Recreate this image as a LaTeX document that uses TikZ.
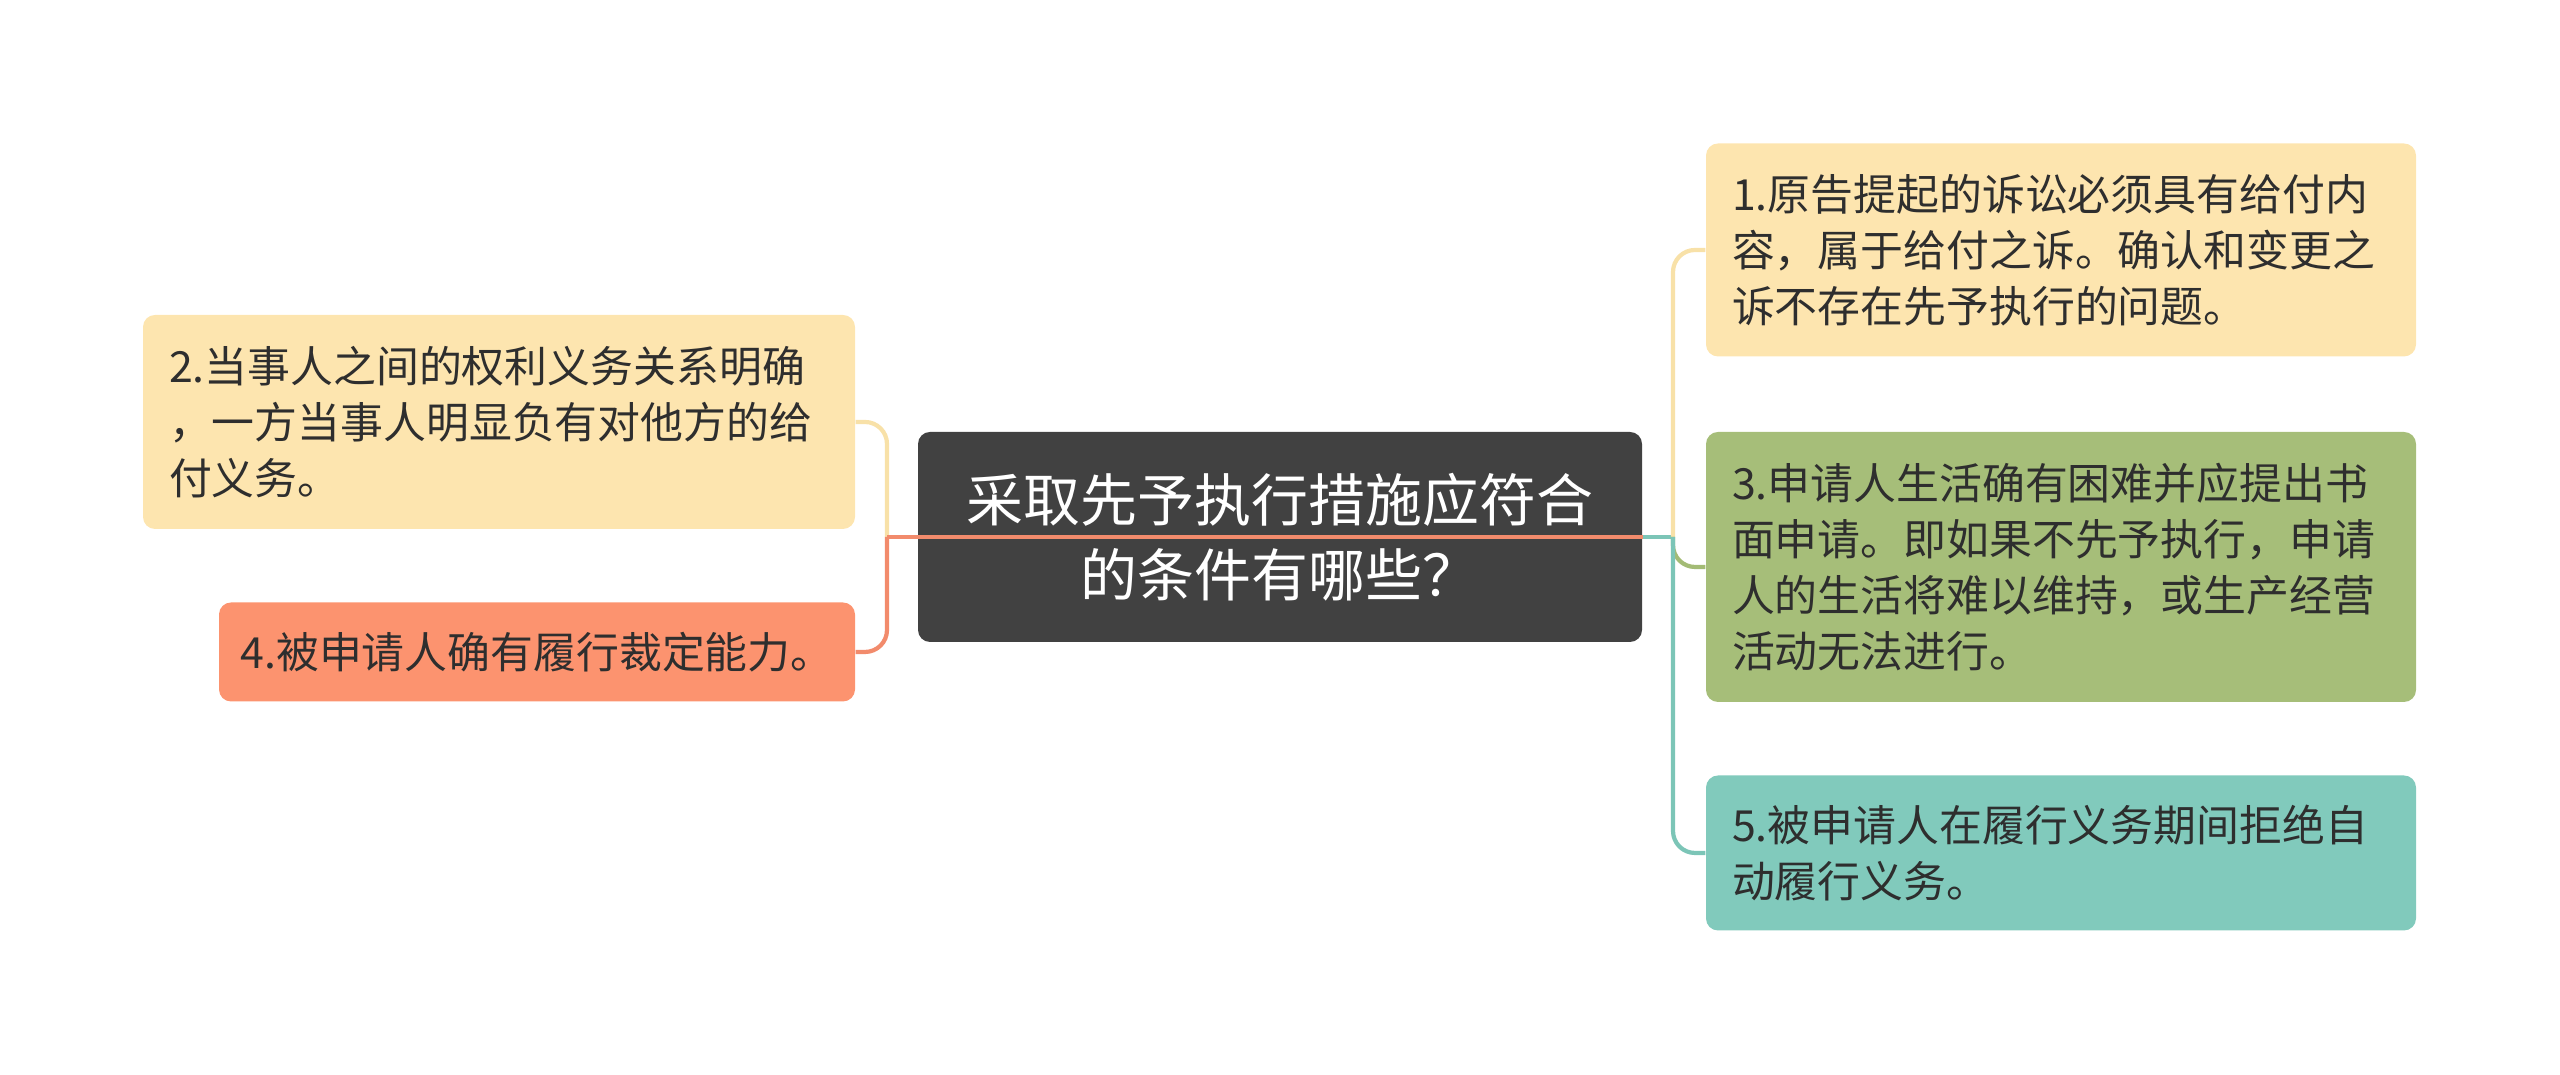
\documentclass[tikz,border=0pt]{standalone}
\usepackage{fontspec}
\newfontfamily\cjk{Noto Sans CJK SC}
\definecolor{rootgray}{HTML}{414141}
\definecolor{inkgray}{HTML}{2E2E2E}
\definecolor{paleyellow}{HTML}{FDE5AF}
\definecolor{lineyellow}{HTML}{F8E1A8}
\definecolor{leafgreen}{HTML}{A6BE79}
\definecolor{linegreen}{HTML}{A3BB75}
\definecolor{leafteal}{HTML}{81CABC}
\definecolor{lineteal}{HTML}{7CC5B7}
\definecolor{leafsalmon}{HTML}{FC936F}
\definecolor{linesalmon}{HTML}{F28B6C}
\tikzset{
	leaf/.style={rounded corners=0.12cm, inner xsep=0.26cm, inner ysep=0pt, align=left,
		text=inkgray, font=\cjk\fontsize{12.2pt}{15.9pt}\selectfont},
	branch/.style={line width=1.2pt, rounded corners=0.22cm},
}
\begin{document}
\begin{tikzpicture}
		\useasboundingbox (0,0) rectangle (25.6,10.75);
		
		\node [fill=rootgray, rounded corners=0.12cm, minimum width=7.24cm, minimum height=2.1cm, align=center,
			text=white, font=\cjk\fontsize{16.2pt}{21.3pt}\selectfont] (root) at (12.80, 5.38)
			{采取先予执行措施应符合\\的条件有哪些？};
		
		\node [leaf, fill=paleyellow, text width=6.6cm, minimum height=2.14cm] (cond2) at (4.99, 6.53)
			{2.当事人之间的权利义务关系明确\\，一方当事人明显负有对他方的给\\付义务。};
		\node [leaf, fill=leafsalmon, inner xsep=0.2cm, minimum width=6.36cm, minimum height=0.99cm] (cond4) at (5.37, 4.23)
			{4.被申请人确有履行裁定能力。};
		
		\node [leaf, fill=paleyellow, text width=6.58cm, minimum height=2.13cm] (cond1) at (20.61, 8.25)
			{1.原告提起的诉讼必须具有给付内\\容，属于给付之诉。确认和变更之\\诉不存在先予执行的问题。};
		\node [leaf, fill=leafgreen, text width=6.58cm, minimum height=2.7cm] (cond3) at (20.61, 5.08)
			{3.申请人生活确有困难并应提出书\\面申请。即如果不先予执行，申请\\人的生活将难以维持，或生产经营\\活动无法进行。};
		\node [leaf, fill=leafteal, text width=6.58cm, minimum height=1.55cm] (cond5) at (20.61, 2.22)
			{5.被申请人在履行义务期间拒绝自\\动履行义务。};
		
		\coordinate (leftbus) at (8.87, 5.38);
		\coordinate (rightbus) at (16.73, 5.38);
		
		\draw [branch, lineyellow] (cond2.east) -| (leftbus);
		\draw [line width=1.2pt, linesalmon] (root.east) -- (leftbus);
		\draw [branch, linesalmon] (leftbus) |- (cond4.east);
		
		\draw [line width=1.2pt, lineteal] (root.east) -- (rightbus);
		\draw [branch, lineyellow] (rightbus) |- (cond1.west);
		\draw [branch, linegreen] (rightbus) |- (cond3.west);
		\draw [branch, lineteal] (rightbus) |- (cond5.west);
		
		\end{tikzpicture}
\end{document}
